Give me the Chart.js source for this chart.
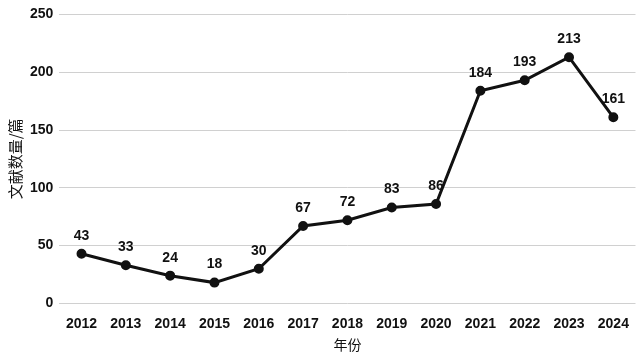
<!DOCTYPE html>
<html>
<head>
<meta charset="utf-8">
<script src="https://cdn.jsdelivr.net/npm/chart.js@4/dist/chart.umd.min.js"></script>
<style>
  html, body { margin: 0; padding: 0; background: #fff; }
  #wrap { width: 642px; height: 354px; }
</style>
</head>
<body>
<div id="wrap"><canvas id="myChart"></canvas></div>
<script>
// 年份 / 文献数量
var years = ["2012", "2013", "2014", "2015", "2016", "2017", "2018", "2019", "2020", "2021", "2022", "2023", "2024"];
var counts = [43, 33, 24, 18, 30, 67, 72, 83, 86, 184, 193, 213, 161];
var yTicks = [0, 50, 100, 150, 200, 250];

var labelFont = "'Liberation Sans Narrow', 'Liberation Sans', sans-serif";
var cjkFont = "'Noto Sans CJK SC', sans-serif";

// 점 위에 값 표시
var valueLabels = {
  id: "valueLabels",
  afterDatasetsDraw: function (chart) {
    var ctx = chart.ctx;
    var meta = chart.getDatasetMeta(0);
    ctx.save();
    ctx.fillStyle = "#111";
    ctx.font = "bold 14px " + labelFont;
    ctx.textAlign = "center";
    ctx.textBaseline = "bottom";
    meta.data.forEach(function (pt, i) {
      ctx.fillText(String(counts[i]), pt.x, pt.y - 11);
    });
    ctx.restore();
  }
};

var ctx = document.getElementById("myChart");
var config = {
  type: "line",
  data: {
    labels: years,
    datasets: [
      {
        data: counts,
        borderColor: "#111",
        backgroundColor: "#111",
        borderWidth: 3,
        pointRadius: 3.5,
        pointHoverRadius: 3.5,
        tension: 0,
      },
    ],
  },
  options: {
    responsive: true,
    maintainAspectRatio: false,
    animation: false,
    layout: {
      padding: { top: -9, right: 5, left: 6, bottom: 1 },
    },
    plugins: {
      legend: { display: false },
      tooltip: { enabled: false },
    },
    scales: {
      x: {
        offset: true,
        grid: { display: false },
        border: { display: false },
        ticks: {
          color: "#111",
          font: { family: labelFont, size: 14, weight: "bold" },
          maxRotation: 0,
          padding: 4,
        },
        title: {
          display: true,
          text: "年份",
          color: "#111",
          font: { family: cjkFont, size: 14 },
          padding: { top: 0, bottom: 0 },
        },
      },
      y: {
        min: 0,
        max: 250,
        afterBuildTicks: function (axis) {
          axis.ticks = yTicks.map(function (v) { return { value: v }; });
        },
        grid: { color: "#d0d0d0", lineWidth: 1, drawTicks: false },
        border: { display: false },
        ticks: {
          color: "#111",
          font: { family: labelFont, size: 14, weight: "bold" },
          padding: 6,
        },
        title: {
          display: true,
          text: "文献数量/篇",
          color: "#111",
          font: { family: cjkFont, size: 15 },
          padding: { top: 0, bottom: 0 },
        },
      },
    },
  },
  plugins: [valueLabels],
};

var myLineChart = new Chart(ctx, config);
</script>
</body>
</html>
